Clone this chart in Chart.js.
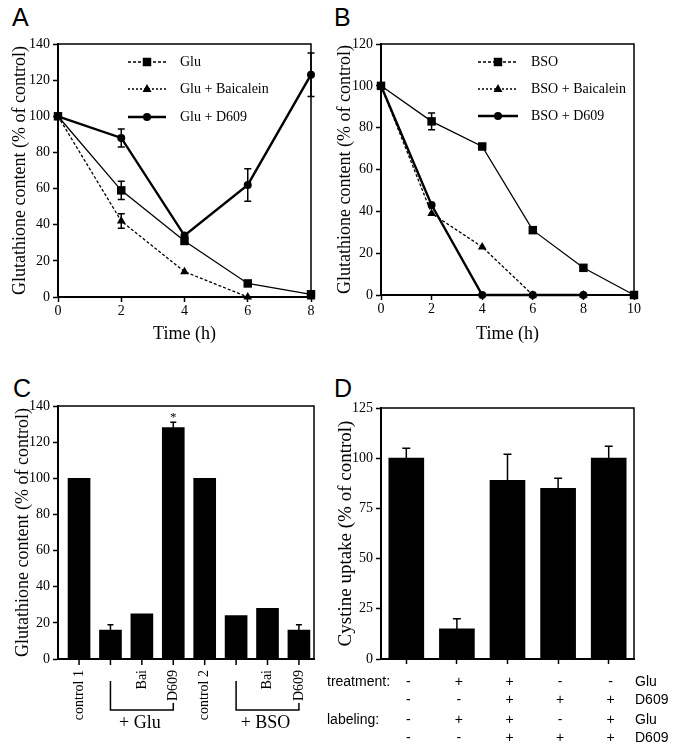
<!DOCTYPE html>
<html>
<head>
<meta charset="utf-8">
<script src="https://cdn.jsdelivr.net/npm/chart.js@4.4.0/dist/chart.umd.min.js"></script>
<style>
body { margin: 0; background: #fff; width: 681px; height: 753px; position: relative; overflow: hidden; }
canvas { position: absolute; }
.letter { position: absolute; font-family: 'Liberation Sans', Arial, sans-serif; font-size: 25px; line-height: 25px; color: #000; }
</style>
</head>
<body>
<div class="letter" style="left:12px;top:5px">A</div>
<div class="letter" style="left:334px;top:5px">B</div>
<div class="letter" style="left:13px;top:376px">C</div>
<div class="letter" style="left:334px;top:376px">D</div>
<canvas id="chart-a" width="325" height="360" style="left:0;top:0"></canvas>
<canvas id="chart-b" width="356" height="360" style="left:325px;top:0"></canvas>
<canvas id="chart-c" width="325" height="383" style="left:0;top:370px"></canvas>
<canvas id="chart-d" width="356" height="383" style="left:325px;top:370px"></canvas>
<script>
'use strict';

// Panel A: glutamate time course
const timeA = [0, 2, 4, 6, 8];
const gluA = [100, 59, 31, 7.5, 1.5];
const gluAErr = [0, 5, 0, 0, 0];
const gluBaiA = [100, 42, 14, 0, 0];
const gluBaiAErr = [0, 4, 0, 0, 0];
const gluD609A = [100, 88, 34, 62, 123];
const gluD609AErr = [0, 5, 0, 9, 12];

// Panel B: BSO time course
const timeB = [0, 2, 4, 6, 8, 10];
const bsoB = [100, 83, 71, 31, 13, 0];
const bsoBErr = [0, 4, 0, 0, 0, 0];
const bsoBaiB = [100, 39, 23, 0, 0, null];
const bsoD609B = [100, 43, 0, 0, 0, null];

// Panel C: glutathione content bars
const barLabelsC = ['control 1', '', 'Bai', 'D609', 'control 2', '', 'Bai', 'D609'];
const barValuesC = [100, 16, 25, 128, 100, 24, 28, 16];
const barErrC = [0, 3, 0, 3, 0, 0, 0, 3];

// Panel D: cystine uptake bars
const barValuesD = [100, 15, 89, 85, 100];
const barErrD = [5, 5, 13, 5, 6];
const treatmentGlu = ['-', '+', '+', '-', '-'];
const treatmentD609 = ['-', '-', '+', '+', '+'];
const labelingGlu = ['-', '+', '+', '-', '+'];
const labelingD609 = ['-', '-', '+', '+', '+'];

const serif = "'Liberation Serif', 'Times New Roman', serif";
const sans = "'Liberation Sans', Arial, sans-serif";
Chart.defaults.font.family = serif;
Chart.defaults.color = '#000';

function points(xs, ys) {
    return xs.map((x, i) => ({ x: x, y: ys[i] }));
}

const framePlugin = {
    id: 'frame',
    afterDraw(chart) {
        const { ctx, chartArea: a } = chart;
        ctx.save();
        ctx.strokeStyle = '#000';
        ctx.lineWidth = 1.5;
        ctx.beginPath();
        ctx.moveTo(a.left, a.top);
        ctx.lineTo(a.right, a.top);
        ctx.lineTo(a.right, a.bottom);
        ctx.stroke();
        ctx.restore();
    },
};

const errorBarPlugin = {
    id: 'errorBars',
    afterDatasetsDraw(chart) {
        const ctx = chart.ctx;
        const yScale = chart.scales.y;
        chart.data.datasets.forEach((ds, i) => {
            if (!ds.errorBars) return;
            const meta = chart.getDatasetMeta(i);
            ctx.save();
            ctx.strokeStyle = '#000';
            ctx.lineWidth = 1.5;
            meta.data.forEach((el, j) => {
                const e = ds.errorBars[j];
                if (!e) return;
                const raw = ds.data[j];
                const v = typeof raw === 'object' ? raw.y : raw;
                const top = yScale.getPixelForValue(v + e);
                const bottom = ds.errorUpOnly ? el.y : yScale.getPixelForValue(v - e);
                const cap = ds.capWidth || 3;
                ctx.beginPath();
                ctx.moveTo(el.x, top);
                ctx.lineTo(el.x, bottom);
                ctx.moveTo(el.x - cap, top);
                ctx.lineTo(el.x + cap, top);
                if (!ds.errorUpOnly) {
                    ctx.moveTo(el.x - cap, bottom);
                    ctx.lineTo(el.x + cap, bottom);
                }
                ctx.stroke();
            });
            ctx.restore();
        });
    },
};

function drawMarker(ctx, style, x, y, r) {
    ctx.beginPath();
    if (style === 'rect') {
        const s = r * Math.SQRT1_2;
        ctx.rect(x - s, y - s, 2 * s, 2 * s);
    } else if (style === 'triangle') {
        ctx.moveTo(x, y - r);
        ctx.lineTo(x + r * 0.9, y + r * 0.6);
        ctx.lineTo(x - r * 0.9, y + r * 0.6);
        ctx.closePath();
    } else {
        ctx.arc(x, y, r, 0, Math.PI * 2);
    }
    ctx.fill();
}

const insideLegendPlugin = {
    id: 'insideLegend',
    afterDraw(chart, args, opts) {
        if (!opts.rows) return;
        const { ctx, chartArea: a } = chart;
        ctx.save();
        ctx.fillStyle = '#000';
        ctx.strokeStyle = '#000';
        ctx.font = '14px ' + serif;
        ctx.textBaseline = 'middle';
        chart.data.datasets.forEach((ds, i) => {
            const y = a.top + opts.rows[i];
            const x0 = a.left + opts.lineStart;
            const x1 = a.left + opts.lineEnd;
            ctx.lineWidth = ds.borderWidth;
            ctx.setLineDash(ds.legendDash || []);
            ctx.beginPath();
            ctx.moveTo(x0, y);
            ctx.lineTo(x1, y);
            ctx.stroke();
            ctx.setLineDash([]);
            drawMarker(ctx, ds.pointStyle, (x0 + x1) / 2, y, ds.pointRadius);
            ctx.fillText(ds.label, a.left + opts.textX, y);
        });
        ctx.restore();
    },
};

function lineAxes(xMax, yMax, xTitleBottom, yTitleTop, xHeight, yWidth) {
    return {
        x: {
            type: 'linear',
            min: 0,
            max: xMax,
            ticks: { stepSize: 2, font: { size: 14 }, padding: 1, maxRotation: 0 },
            grid: { drawOnChartArea: false, tickLength: 5, tickColor: '#000', tickWidth: 1.5 },
            border: { color: '#000', width: 2 },
            title: { display: true, text: 'Time (h)', font: { size: 18 }, padding: { top: 0, bottom: xTitleBottom } },
            afterFit(scale) { scale.height = xHeight; },
        },
        y: {
            min: 0,
            max: yMax,
            ticks: { stepSize: 20, font: { size: 14 }, padding: 3 },
            grid: { drawOnChartArea: false, tickLength: 5, tickColor: '#000', tickWidth: 1.5 },
            border: { color: '#000', width: 2 },
            title: { display: true, text: 'Glutathione content (% of control)', font: { size: 18 }, padding: { top: yTitleTop, bottom: 0 } },
            afterFit(scale) { scale.width = yWidth; },
        },
    };
}

function seriesStyle(label, data, kind) {
    const base = {
        label: label,
        data: data,
        borderColor: '#000',
        backgroundColor: '#000',
        pointBackgroundColor: '#000',
        pointBorderWidth: 0,
        tension: 0,
        spanGaps: false,
        clip: false,
        capWidth: 3.5,
    };
    if (kind === 'square') {
        return Object.assign(base, { borderWidth: 1.3, pointStyle: 'rect', pointRadius: 6, legendDash: [3, 2] });
    }
    if (kind === 'triangle') {
        return Object.assign(base, { borderWidth: 1.3, borderDash: [3, 2], pointStyle: 'triangle', pointRadius: 5, legendDash: [2, 2] });
    }
    return Object.assign(base, { borderWidth: 2.4, pointStyle: 'circle', pointRadius: 4 });
}

const commonOptions = {
    responsive: false,
    animation: false,
    events: [],
    plugins: { legend: { display: false }, tooltip: { enabled: false } },
};

// Panel A
const datasetsA = [
    Object.assign(seriesStyle('Glu', points(timeA, gluA), 'square'), { errorBars: gluAErr }),
    Object.assign(seriesStyle('Glu + Baicalein', points(timeA, gluBaiA), 'triangle'), { errorBars: gluBaiAErr }),
    Object.assign(seriesStyle('Glu + D609', points(timeA, gluD609A), 'circle'), { errorBars: gluD609AErr }),
];
new Chart(document.getElementById('chart-a'), {
    type: 'line',
    data: { datasets: datasetsA },
    options: Object.assign({}, commonOptions, {
        layout: { padding: { left: 0, right: 14, top: 44, bottom: 13 } },
        scales: lineAxes(8, 140, 2, 9, 50, 58),
        plugins: Object.assign({}, commonOptions.plugins, {
            insideLegend: { rows: [18, 45, 73], lineStart: 70, lineEnd: 108, textX: 122 },
        }),
    }),
    plugins: [framePlugin, errorBarPlugin, insideLegendPlugin],
});

// Panel B
const datasetsB = [
    Object.assign(seriesStyle('BSO', points(timeB, bsoB), 'square'), { errorBars: bsoBErr }),
    seriesStyle('BSO + Baicalein', points(timeB, bsoBaiB), 'triangle'),
    seriesStyle('BSO + D609', points(timeB, bsoD609B), 'circle'),
];
new Chart(document.getElementById('chart-b'), {
    type: 'line',
    data: { datasets: datasetsB },
    options: Object.assign({}, commonOptions, {
        layout: { padding: { left: 0, right: 47, top: 44, bottom: 15 } },
        scales: lineAxes(10, 120, 0, 9, 50, 56),
        plugins: Object.assign({}, commonOptions.plugins, {
            insideLegend: { rows: [18, 45, 72], lineStart: 97, lineEnd: 137, textX: 150 },
        }),
    }),
    plugins: [framePlugin, errorBarPlugin, insideLegendPlugin],
});

// Panel C
const labelsPluginC = {
    id: 'labelsC',
    afterDraw(chart) {
        const ctx = chart.ctx;
        const xs = chart.scales.x;
        const base = chart.chartArea.bottom;
        ctx.save();
        ctx.fillStyle = '#000';
        ctx.strokeStyle = '#000';
        ctx.lineWidth = 1.5;
        // tick marks under each bar
        ctx.beginPath();
        barValuesC.forEach((_, i) => {
            const x = xs.getPixelForValue(i);
            ctx.moveTo(x, base);
            ctx.lineTo(x, base + 6);
        });
        ctx.stroke();
        ctx.font = '14px ' + serif;
        barLabelsC.forEach((lab, i) => {
            if (!lab) return;
            ctx.save();
            ctx.translate(xs.getPixelForValue(i), base + 11);
            ctx.rotate(-Math.PI / 2);
            ctx.textAlign = 'right';
            ctx.textBaseline = 'middle';
            ctx.fillText(lab, 0, 0);
            ctx.restore();
        });
        const groups = [{ from: 1, to: 3, text: '+ Glu' }, { from: 5, to: 7, text: '+ BSO' }];
        ctx.font = '18px ' + serif;
        ctx.textAlign = 'center';
        ctx.textBaseline = 'middle';
        groups.forEach(g => {
            const x0 = xs.getPixelForValue(g.from);
            const x1 = xs.getPixelForValue(g.to);
            const y = base + 51;
            ctx.beginPath();
            ctx.moveTo(x0, base + 22);
            ctx.lineTo(x0, y);
            ctx.lineTo(x1, y);
            ctx.lineTo(x1, base + 44);
            ctx.stroke();
            ctx.fillText(g.text, (x0 + x1) / 2 - 2, base + 64);
        });
        // significance mark over the D609 bar
        const ys = chart.scales.y;
        ctx.font = '13px ' + serif;
        ctx.fillText('*', xs.getPixelForValue(3), ys.getPixelForValue(barValuesC[3] + barErrC[3]) - 5);
        ctx.restore();
    },
};
new Chart(document.getElementById('chart-c'), {
    type: 'bar',
    data: {
        datasets: [{
            data: points(barValuesC.map((_, i) => i), barValuesC),
            backgroundColor: '#000',
            barThickness: 22,
            errorBars: barErrC,
            errorUpOnly: true,
            capWidth: 3,
        }],
    },
    options: Object.assign({}, commonOptions, {
        layout: { padding: { left: 0, right: 11, top: 36, bottom: 0 } },
        scales: {
            x: {
                type: 'linear',
                offset: false,
                min: -0.67,
                max: 7.48,
                ticks: { display: false },
                grid: { display: false },
                border: { display: true, color: '#000', width: 2 },
                afterFit(scale) { scale.height = 94; },
            },
            y: {
                min: 0,
                max: 140,
                ticks: { stepSize: 20, font: { size: 14 }, padding: 3 },
                grid: { drawOnChartArea: false, tickLength: 5, tickColor: '#000', tickWidth: 1.5 },
                border: { color: '#000', width: 2 },
                title: { display: true, text: 'Glutathione content (% of control)', font: { size: 18 }, padding: { top: 12, bottom: 0 } },
                afterFit(scale) { scale.width = 58; },
            },
        },
    }),
    plugins: [framePlugin, errorBarPlugin, labelsPluginC],
});

// Panel D
const labelsPluginD = {
    id: 'labelsD',
    afterDraw(chart) {
        const ctx = chart.ctx;
        const xs = chart.scales.x;
        const base = chart.chartArea.bottom;
        const rows = [
            { y: base + 23, signs: treatmentGlu, right: 'Glu', title: 'treatment:' },
            { y: base + 41, signs: treatmentD609, right: 'D609' },
            { y: base + 61, signs: labelingGlu, right: 'Glu', title: 'labeling:' },
            { y: base + 79, signs: labelingD609, right: 'D609' },
        ];
        ctx.save();
        ctx.fillStyle = '#000';
        ctx.font = '14px ' + sans;
        ctx.textBaseline = 'middle';
        rows.forEach(r => {
            if (r.title) {
                ctx.textAlign = 'left';
                ctx.fillText(r.title, 2, r.y);
            }
            ctx.textAlign = 'center';
            r.signs.forEach((s, i) => ctx.fillText(s, xs.getPixelForValue(i) + 2, r.y));
            ctx.textAlign = 'left';
            ctx.fillText(r.right, chart.chartArea.right + 1, r.y);
        });
        ctx.restore();
    },
};
new Chart(document.getElementById('chart-d'), {
    type: 'bar',
    data: {
        labels: barValuesD.map((_, i) => String(i + 1)),
        datasets: [{
            data: barValuesD,
            backgroundColor: '#000',
            barThickness: 35,
            errorBars: barErrD,
            errorUpOnly: true,
            capWidth: 4,
        }],
    },
    options: Object.assign({}, commonOptions, {
        layout: { padding: { left: 0, right: 47, top: 38, bottom: 0 } },
        scales: {
            x: {
                ticks: { display: false },
                grid: { drawOnChartArea: false, offset: false, tickLength: 5, tickColor: '#000', tickWidth: 1.5 },
                border: { color: '#000', width: 2 },
                afterFit(scale) { scale.height = 94; },
            },
            y: {
                min: 0,
                max: 125,
                ticks: { stepSize: 25, font: { size: 14 }, padding: 3 },
                grid: { drawOnChartArea: false, tickLength: 5, tickColor: '#000', tickWidth: 1.5 },
                border: { color: '#000', width: 2 },
                title: { display: true, text: 'Cystine uptake (% of control)', font: { size: 19 }, padding: { top: 10, bottom: 0 } },
                afterFit(scale) { scale.width = 56; },
            },
        },
    }),
    plugins: [framePlugin, errorBarPlugin, labelsPluginD],
});
</script>
</body>
</html>
